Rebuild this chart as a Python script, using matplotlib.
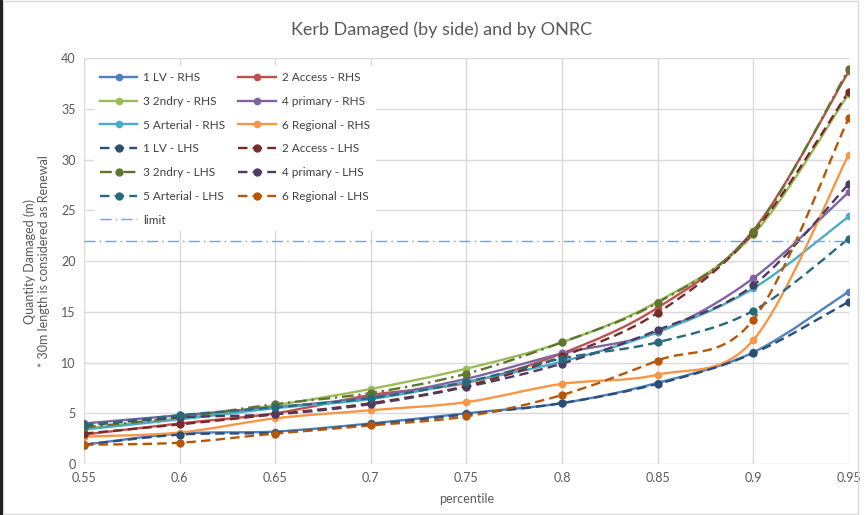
import matplotlib.pyplot as plt
from matplotlib.patches import Rectangle, PathPatch
from matplotlib.path import Path
from matplotlib.lines import Line2D

plt.rcParams['font.family'] = ['Lato', 'DejaVu Sans']

pct = [0.55, 0.6, 0.65, 0.7, 0.75, 0.8, 0.85, 0.9, 0.95]

lv_rhs = [1.9, 3.0, 3.2, 4.0, 5.0, 6.0, 8.0, 11.0, 17.0]
access_rhs = [2.9, 4.0, 5.0, 6.8, 8.0, 10.9, 15.4, 23.0, 38.7]
ndry_rhs = [3.5, 4.5, 5.8, 7.4, 9.4, 12.0, 16.0, 22.6, 36.5]
primary_rhs = [4.0, 4.8, 5.6, 6.6, 8.4, 10.9, 13.0, 18.3, 26.8]
arterial_rhs = [3.4, 4.4, 5.5, 6.4, 8.1, 10.1, 13.0, 17.3, 24.4]
regional_rhs = [2.7, 3.1, 4.5, 5.3, 6.1, 7.9, 8.8, 12.2, 30.5]

lv_lhs = [1.9, 2.9, 3.1, 3.9, 4.9, 6.0, 7.9, 10.9, 16.0]
access_lhs = [3.0, 3.9, 4.9, 6.0, 7.7, 10.6, 14.9, 22.8, 36.7]
ndry_lhs = [3.6, 4.6, 5.9, 7.0, 8.9, 12.0, 15.9, 22.9, 38.9]
primary_lhs = [3.8, 4.6, 4.9, 5.9, 7.6, 9.9, 13.2, 17.6, 27.6]
arterial_lhs = [3.8, 4.8, 5.6, 6.5, 8.1, 10.4, 12.0, 15.1, 22.2]
regional_lhs = [1.9, 2.1, 3.0, 3.8, 4.7, 6.8, 10.2, 14.2, 34.1]

limit = 22

names = ['1 LV', '2 Access', '3 2ndry', '4 primary', '5 Arterial', '6 Regional']
rhs = [lv_rhs, access_rhs, ndry_rhs, primary_rhs, arterial_rhs, regional_rhs]
lhs = [lv_lhs, access_lhs, ndry_lhs, primary_lhs, arterial_lhs, regional_lhs]
rhs_colors = ['#4f81bd', '#c0504d', '#9bbb59', '#8064a2', '#4bacc6', '#f79646']
lhs_colors = ['#2c4d75', '#772c2a', '#5f7530', '#4d3b62', '#276a7c', '#b65708']


def smooth_path(xs, ys):
    # Excel style smoothed line: bezier segments through the points
    pts = list(zip(xs, ys))
    n = len(pts)
    verts = [pts[0]]
    codes = [Path.MOVETO]
    for i in range(n - 1):
        p0 = pts[max(i - 1, 0)]
        p1 = pts[i]
        p2 = pts[i + 1]
        p3 = pts[min(i + 2, n - 1)]
        c1 = (p1[0] + (p2[0] - p0[0]) / 6, p1[1] + (p2[1] - p0[1]) / 6)
        c2 = (p2[0] - (p3[0] - p1[0]) / 6, p2[1] - (p3[1] - p1[1]) / 6)
        verts += [c1, c2, p2]
        codes += [Path.CURVE4] * 3
    return Path(verts, codes)


fig = plt.figure(figsize=(8.67, 5.15), dpi=100)
ax = fig.add_axes([0.0969, 0.099, 0.882, 0.788])

handles = {}


def add_series(label, vals, col, style, ms):
    ax.add_patch(PathPatch(smooth_path(pct, vals), fill=False, edgecolor=col,
                           lw=1.7, ls=style, zorder=2))
    ax.plot(pct, vals, ls='none', color=col, marker='o', ms=ms, zorder=3)
    handles[label] = Line2D([], [], color=col, lw=1.7, ls=style, marker='o', ms=ms)


for name, vals, col in zip(names, rhs, rhs_colors):
    add_series(name + ' - RHS', vals, col, '-', 4.5)
for name, vals, col in zip(names, lhs, lhs_colors):
    style = (0, (5, 2, 1, 2)) if name == '3 2ndry' else (0, (4, 2.2))
    add_series(name + ' - LHS', vals, col, style, 5)
h = ax.axhline(limit, color='#7f9fd0', lw=1, ls=(0, (8, 3, 1, 3)), label='limit')
handles['limit'] = h

# legend filled column by column, so reorder to match the row layout
order = ['1 LV - RHS', '3 2ndry - RHS', '5 Arterial - RHS', '1 LV - LHS',
         '3 2ndry - LHS', '5 Arterial - LHS', 'limit',
         '2 Access - RHS', '4 primary - RHS', '6 Regional - RHS',
         '2 Access - LHS', '4 primary - LHS', '6 Regional - LHS']
leg = ax.legend([handles[k] for k in order], order, ncol=2, loc='upper left',
                bbox_to_anchor=(0.005, 0.995), frameon=True, facecolor='white',
                edgecolor='none', framealpha=1, fontsize=8.5, labelspacing=1.08,
                handlelength=3.2, handletextpad=0.5, columnspacing=1.1,
                borderpad=0.5)
leg.set_zorder(5)
for t in leg.get_texts():
    t.set_color('#404040')

ax.set_xlim(0.55, 0.95)
ax.set_ylim(0, 40)
ax.set_xticks(pct)
ax.set_xticklabels(['0.55', '0.6', '0.65', '0.7', '0.75', '0.8', '0.85', '0.9', '0.95'])
ax.set_yticks(range(0, 41, 5))
ax.grid(True, color='#d9d9d9', lw=1)
ax.set_axisbelow(True)
for s in ax.spines.values():
    s.set_visible(False)
ax.tick_params(length=0, labelsize=9, colors='#595959', pad=6)

fig.text(0.509, 0.942, 'Kerb Damaged (by side) and by ONRC', fontsize=13,
         color='#595959', ha='center', va='center')
ax.set_xlabel('percentile', fontsize=9, color='#595959', labelpad=6)
ax.set_ylabel('Quantity Damaged (m)\n* 30m length is considered as Renewal',
              fontsize=9, color='#595959', labelpad=8)

fig.patches.append(Rectangle((0.003, 0.002), 0.987, 0.996, transform=fig.transFigure,
                             fill=False, edgecolor='#d9d9d9', lw=1))
fig.patches.append(Rectangle((0.0, 0.0), 0.003, 1.0, transform=fig.transFigure,
                             color='#202020', lw=0))

fig.savefig('out.png', dpi=100)
